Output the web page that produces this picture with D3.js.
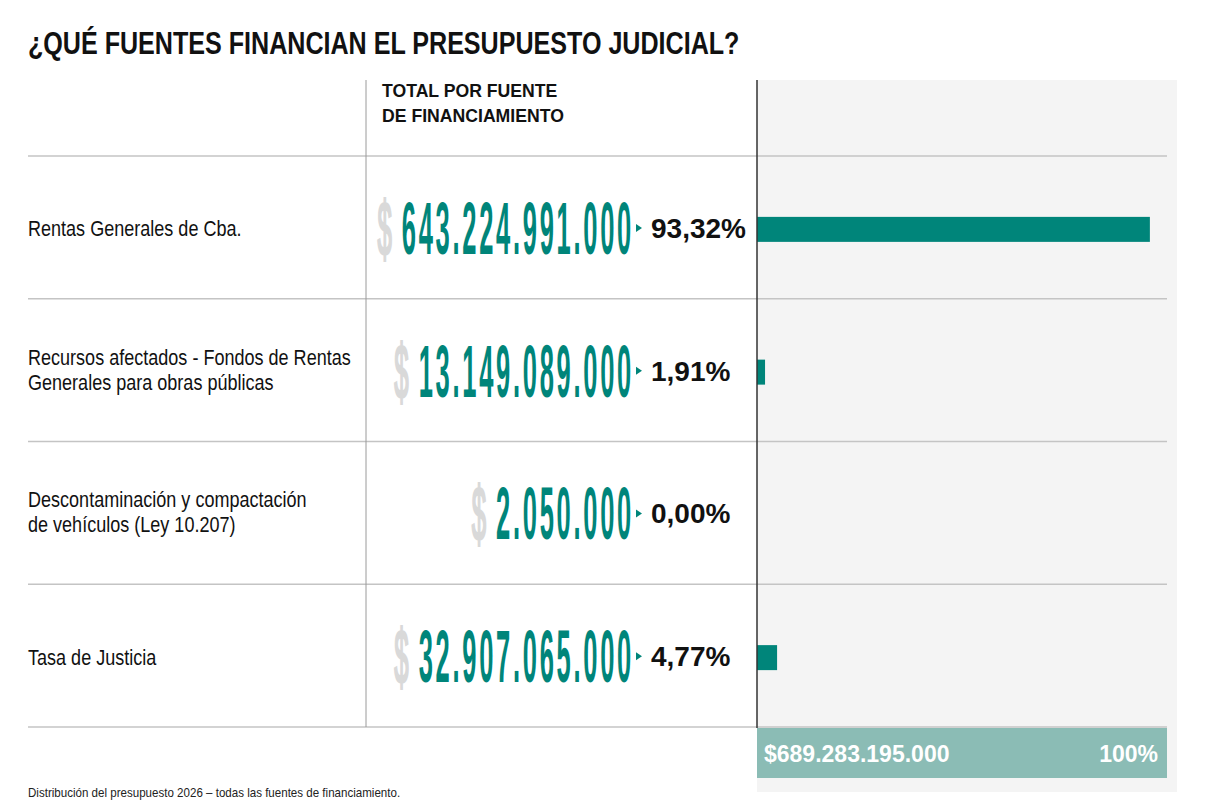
<!DOCTYPE html>
<html>
<head>
<meta charset="utf-8">
<script src="https://cdn.jsdelivr.net/npm/d3@7"></script>
<style>
  html, body { margin: 0; padding: 0; background: #fff; }
  svg { display: block; font-family: "Liberation Sans", Arial, sans-serif; }
</style>
</head>
<body>
<div id="chart"></div>
<script>
// Data
const title = '¿QUÉ FUENTES FINANCIAN EL PRESUPUESTO JUDICIAL?';
const columnHeader = ['TOTAL POR FUENTE', 'DE FINANCIAMIENTO'];
const sources = [
  ['Rentas Generales de Cba.'],
  ['Recursos afectados - Fondos de Rentas', 'Generales para obras públicas'],
  ['Descontaminación y compactación', 'de vehículos (Ley 10.207)'],
  ['Tasa de Justicia']
];
const amounts = [643224991000, 13149089000, 2050000, 32907065000];
const shares = [93.32, 1.91, 0.00, 4.77];
const totalAmount = 689283195000;
const totalShare = 100;
const footnote = 'Distribución del presupuesto 2026 – todas las fuentes de financiamiento.';

const W = 1206, H = 812;
const teal = '#00857a', lightTeal = '#8bbcb5';

const locale = d3.formatLocale({ decimal: ',', thousands: '.', grouping: [3], currency: ['$', ''] });
const fmtInt = locale.format(',d');
const fmtPct = locale.format('.2f');

const svg = d3.select('#chart').append('svg').attr('width', W).attr('height', H);

// layout
const left = 28, colA = 366, colB = 757, right = 1167;
const rowsTop = 156, rowsBottom = 727;
const bigSx = 0.34;

// text helper: condensed text via horizontal scale
function ctext(g, x, y, str, sx) {
  return g.append('text')
    .attr('transform', `translate(${x},${y}) scale(${sx},1)`)
    .text(str);
}

const y = d3.scaleBand().domain(d3.range(sources.length)).range([rowsTop, rowsBottom]);
const x = d3.scaleLinear().domain([0, 100]).range([colB, 1178]);

// grey panel behind the bars
svg.append('rect')
  .attr('x', colB).attr('y', 80).attr('width', 1177 - colB).attr('height', 792 - 80)
  .attr('fill', '#f4f4f4');

// title
ctext(svg, left, 54, title, 0.81)
  .attr('font-size', 31).attr('font-weight', 'bold').attr('fill', '#111');

// column header
columnHeader.forEach((t, i) => {
  ctext(svg, 382, 97 + i * 25, t, 0.98)
    .attr('font-size', 18).attr('font-weight', 'bold').attr('fill', '#111');
});

// row separators
const seps = [rowsTop].concat(d3.range(sources.length).map(i => y(i) + y.bandwidth()));
svg.selectAll('line.sep').data(seps).join('line')
  .attr('class', 'sep')
  .attr('x1', left).attr('x2', right)
  .attr('y1', d => d).attr('y2', d => d)
  .attr('stroke', '#c4c4c4').attr('stroke-width', 1.5);

// column divider
svg.append('line').attr('x1', colA).attr('x2', colA).attr('y1', 80).attr('y2', rowsBottom)
  .attr('stroke', '#9a9a9a').attr('stroke-width', 1);

// rows
const rows = svg.selectAll('g.row').data(sources).join('g')
  .attr('class', 'row')
  .attr('transform', (d, i) => `translate(0,${y(i) + y.bandwidth() / 2})`);

rows.each(function (lines, i) {
  const g = d3.select(this);
  // label
  const lh = 25;
  const first = 9 - (lines.length - 1) * lh / 2 - (lines.length > 1 ? 2 : 0);
  lines.forEach((t, j) => {
    ctext(g, left, first + j * lh, t, 0.82)
      .attr('font-size', 22).attr('fill', '#111');
  });

  // big amount
  const num = ctext(g, 634, 26.5, fmtInt(amounts[i]), bigSx)
    .attr('font-size', 75).attr('font-weight', 'bold').attr('fill', teal)
    .attr('letter-spacing', 8)
    .attr('text-anchor', 'end');
  const w = num.node().getComputedTextLength() * bigSx;
  ctext(g, 634 - w - 10, 27.5, '$', bigSx)
    .attr('font-size', 76).attr('fill', '#d9d9d9')
    .attr('stroke', '#d9d9d9').attr('stroke-width', 3)
    .attr('text-anchor', 'end');

  // pointer
  g.append('path').attr('d', 'M636,-3.5L642,0.5L636,4.5Z').attr('fill', teal);

  // share
  g.append('text').attr('x', 651).attr('y', 10.5)
    .attr('font-size', 28).attr('font-weight', 'bold').attr('fill', '#111')
    .text(fmtPct(shares[i]) + '%');

  // bar
  g.append('rect')
    .attr('x', x(0)).attr('y', -10.5)
    .attr('width', x(shares[i]) - x(0)).attr('height', 25)
    .attr('fill', teal);
});

svg.append('line').attr('x1', colB).attr('x2', colB).attr('y1', 80).attr('y2', 728)
  .attr('stroke', '#333').attr('stroke-width', 1.5);

// total box
svg.append('rect')
  .attr('x', colB).attr('y', 728).attr('width', right - colB).attr('height', 50)
  .attr('fill', lightTeal);
svg.append('text').attr('x', 764).attr('y', 762)
  .attr('font-size', 23).attr('font-weight', 'bold').attr('fill', '#fff')
  .text('$' + fmtInt(totalAmount));
svg.append('text').attr('x', 1158).attr('y', 762).attr('text-anchor', 'end')
  .attr('font-size', 23).attr('font-weight', 'bold').attr('fill', '#fff')
  .text(totalShare + '%');

// footnote
ctext(svg, left, 797, footnote, 0.89)
  .attr('font-size', 13).attr('fill', '#222');
</script>
</body>
</html>
